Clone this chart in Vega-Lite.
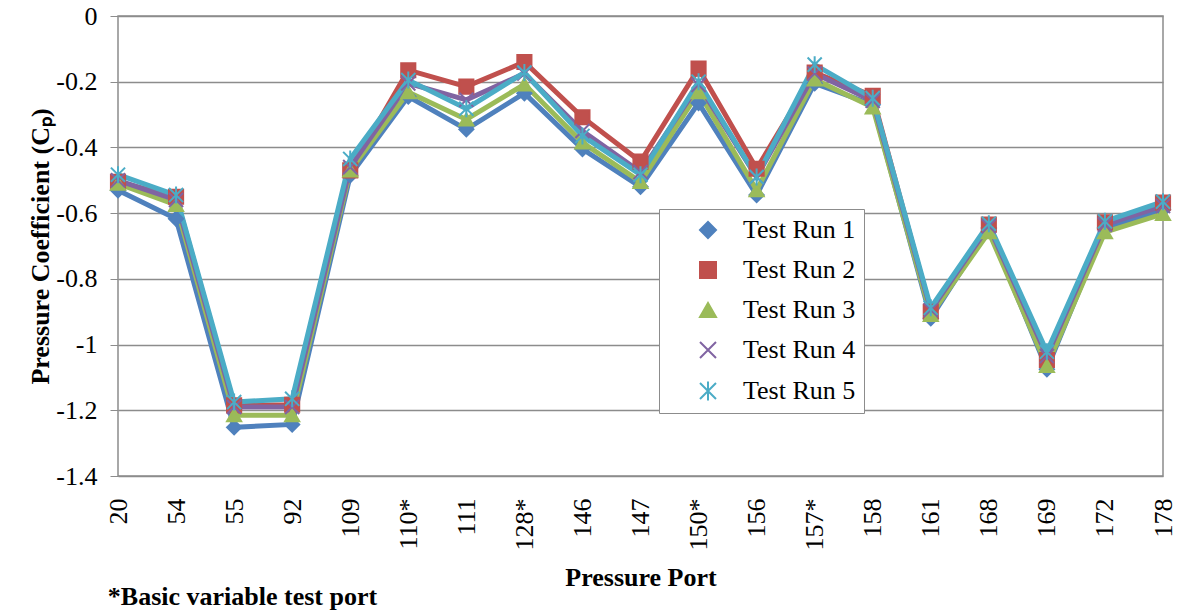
{
  "$schema": "https://vega.github.io/schema/vega-lite/v6.json",
  "width": 1045,
  "height": 460,
  "padding": {"left": 27, "top": 3, "right": 10, "bottom": 0},
  "background": "white",
  "config": {
    "font": "Liberation Serif, Times New Roman, serif",
    "view": {"stroke": "#8c8c8c", "strokeWidth": 1.5},
    "axis": {"labelFont": "Liberation Serif, Times New Roman, serif", "titleFont": "Liberation Serif, Times New Roman, serif", "labelColor": "black", "titleColor": "black", "labelFontSize": 26, "titleFontSize": 26, "titleFontWeight": "bold", "domainColor": "#8c8c8c", "tickColor": "#8c8c8c", "gridColor": "#8c8c8c", "gridWidth": 1.5},
    "legend": {
      "title": null, "orient": "none", "legendX": 541, "legendY": 193,
      "labelFont": "Liberation Serif, Times New Roman, serif", "labelFontSize": 26, "labelColor": "black",
      "fillColor": "white", "strokeColor": "#8c8c8c", "padding": 8,
      "rowPadding": 14, "symbolSize": 256, "symbolStrokeWidth": 2, "symbolOffset": 28, "labelOffset": 22, "labelLimit": 400
    }
  },
  "title": {"text": "*Basic variable test port", "orient": "bottom", "anchor": "start", "font": "Liberation Serif, Times New Roman, serif", "fontSize": 26, "fontWeight": "bold", "color": "black", "dx": 80, "offset": -6},
  "data": {"values": [
    {"port": "20", "Test Run 1": -0.53, "Test Run 2": -0.505, "Test Run 3": -0.51, "Test Run 4": -0.5, "Test Run 5": -0.483},
    {"port": "54", "Test Run 1": -0.617, "Test Run 2": -0.55, "Test Run 3": -0.575, "Test Run 4": -0.56, "Test Run 5": -0.545},
    {"port": "55", "Test Run 1": -1.252, "Test Run 2": -1.185, "Test Run 3": -1.215, "Test Run 4": -1.19, "Test Run 5": -1.175},
    {"port": "92", "Test Run 1": -1.243, "Test Run 2": -1.183, "Test Run 3": -1.215, "Test Run 4": -1.19, "Test Run 5": -1.165},
    {"port": "109", "Test Run 1": -0.485, "Test Run 2": -0.47, "Test Run 3": -0.47, "Test Run 4": -0.46, "Test Run 5": -0.435},
    {"port": "110*", "Test Run 1": -0.245, "Test Run 2": -0.165, "Test Run 3": -0.232, "Test Run 4": -0.205, "Test Run 5": -0.195},
    {"port": "111", "Test Run 1": -0.345, "Test Run 2": -0.215, "Test Run 3": -0.315, "Test Run 4": -0.255, "Test Run 5": -0.282},
    {"port": "128*", "Test Run 1": -0.235, "Test Run 2": -0.14, "Test Run 3": -0.208, "Test Run 4": -0.175, "Test Run 5": -0.172},
    {"port": "146", "Test Run 1": -0.405, "Test Run 2": -0.308, "Test Run 3": -0.385, "Test Run 4": -0.35, "Test Run 5": -0.365},
    {"port": "147", "Test Run 1": -0.52, "Test Run 2": -0.443, "Test Run 3": -0.505, "Test Run 4": -0.475, "Test Run 5": -0.483},
    {"port": "150*", "Test Run 1": -0.265, "Test Run 2": -0.16, "Test Run 3": -0.232, "Test Run 4": -0.21, "Test Run 5": -0.2},
    {"port": "156", "Test Run 1": -0.545, "Test Run 2": -0.465, "Test Run 3": -0.53, "Test Run 4": -0.49, "Test Run 5": -0.49},
    {"port": "157*", "Test Run 1": -0.205, "Test Run 2": -0.172, "Test Run 3": -0.193, "Test Run 4": -0.175, "Test Run 5": -0.148},
    {"port": "158", "Test Run 1": -0.27, "Test Run 2": -0.243, "Test Run 3": -0.278, "Test Run 4": -0.258, "Test Run 5": -0.25},
    {"port": "161", "Test Run 1": -0.92, "Test Run 2": -0.9, "Test Run 3": -0.91, "Test Run 4": -0.895, "Test Run 5": -0.888},
    {"port": "168", "Test Run 1": -0.645, "Test Run 2": -0.635, "Test Run 3": -0.658, "Test Run 4": -0.64, "Test Run 5": -0.632},
    {"port": "169", "Test Run 1": -1.075, "Test Run 2": -1.047, "Test Run 3": -1.065, "Test Run 4": -1.035, "Test Run 5": -1.022},
    {"port": "172", "Test Run 1": -0.645, "Test Run 2": -0.628, "Test Run 3": -0.658, "Test Run 4": -0.635, "Test Run 5": -0.625},
    {"port": "178", "Test Run 1": -0.59, "Test Run 2": -0.568, "Test Run 3": -0.602, "Test Run 4": -0.578, "Test Run 5": -0.565}
  ]},
  "transform": [
    {"fold": ["Test Run 1", "Test Run 2", "Test Run 3", "Test Run 4", "Test Run 5"], "as": ["run", "cp"]}
  ],
  "encoding": {
    "x": {
      "field": "port", "type": "ordinal", "sort": null,
      "scale": {"type": "point", "padding": 0},
      "axis": {"title": "Pressure Port", "labelAngle": -90, "grid": false, "ticks": false, "domain": false, "labelPadding": 22, "titlePadding": 14}
    },
    "y": {
      "field": "cp", "type": "quantitative",
      "scale": {"domain": [-1.4, 0], "nice": false, "zero": false},
      "axis": {"title": "Pressure Coefficient (Cₚ)", "values": [0, -0.2, -0.4, -0.6, -0.8, -1, -1.2, -1.4], "labelExpr": "toString(datum.value)", "tickSize": 8, "labelPadding": 13, "titlePadding": 2, "domain": false}
    },
    "stroke": {
      "field": "run", "type": "nominal",
      "scale": {"domain": ["Test Run 1", "Test Run 2", "Test Run 3", "Test Run 4", "Test Run 5"], "range": ["#4F81BD", "#C0504D", "#9BBB59", "#8064A2", "#4BACC6"]}
    }
  },
  "layer": [
    {
      "mark": {"type": "line", "strokeWidth": 5},
      "encoding": {"detail": {"field": "run"}}
    },
    {
      "mark": {"type": "point", "filled": true, "size": 200, "strokeWidth": 2, "opacity": 1},
      "encoding": {
        "fill": {
          "field": "run", "type": "nominal",
          "scale": {"domain": ["Test Run 1", "Test Run 2", "Test Run 3", "Test Run 4", "Test Run 5"], "range": ["#4F81BD", "#C0504D", "#9BBB59", "#8064A2", "#4BACC6"]}
        },
        "shape": {
          "field": "run", "type": "nominal",
          "scale": {"domain": ["Test Run 1", "Test Run 2", "Test Run 3", "Test Run 4", "Test Run 5"], "range": ["diamond", "square", "triangle-up", "M-1,-1L1,1M-1,1L1,-1", "M-1,-1L1,1M-1,1L1,-1M0,-1.2L0,1.2"]}
        }
      }
    }
  ]
}
